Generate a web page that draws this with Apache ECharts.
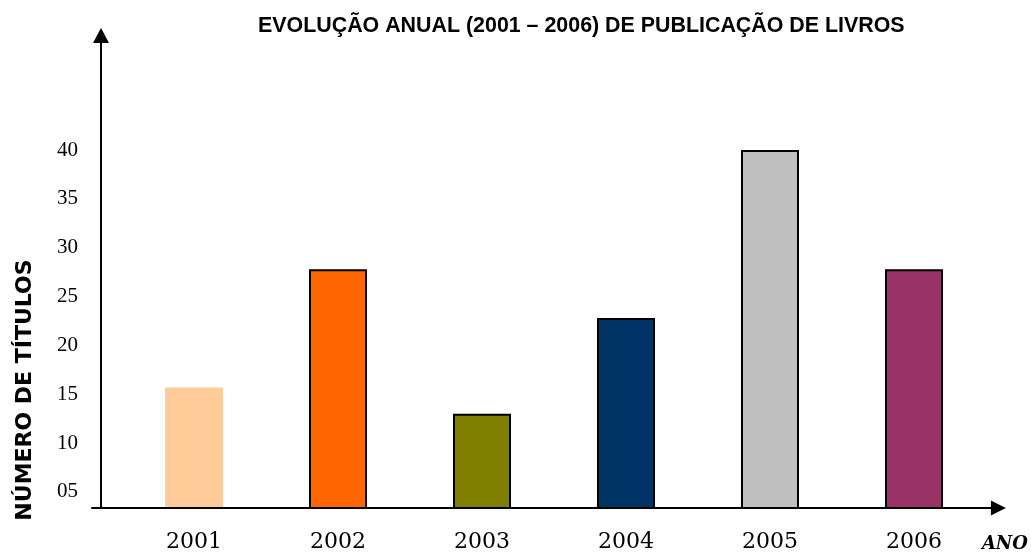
<!DOCTYPE html>
<html>
<head>
<meta charset="utf-8">
<script src="https://cdn.jsdelivr.net/npm/echarts@6/dist/echarts.min.js"></script>
<style>html,body{margin:0;padding:0;background:#fff;}#c{width:1031px;height:554px;}</style>
</head>
<body>
<div id="c"></div>
<script>
var years = ['2001', '2002', '2003', '2004', '2005', '2006'];
var titles = [15.7, 27.8, 13.0, 22.8, 40.0, 27.8];
var barColors = ['#FFCC99', '#FF6600', '#808000', '#003366', '#C0C0C0', '#993366'];
var yTicks = [5, 10, 15, 20, 25, 30, 35, 40];
var chartTitle = 'EVOLUÇÃO ANUAL (2001 – 2006) DE PUBLICAÇÃO DE LIVROS';
var yName = 'NÚMERO DE TÍTULOS';
var xName = 'ANO';

var chart = echarts.init(document.getElementById('c'), null, {renderer: 'canvas'});
var yMin = 3.36, yMax = 51.72;
var option = {
  animation: false,
  backgroundColor: '#fff',
  title: {
    text: chartTitle, left: 258, top: 16, padding: 0,
    textStyle: {fontFamily: 'Liberation Sans', fontWeight: 'bold', fontSize: 21.4, color: '#000'}
  },
  graphic: [{
    type: 'text', x: 25, y: 390, rotation: Math.PI / 2,
    style: {text: yName, align: 'center', verticalAlign: 'middle',
      font: 'bold 22px "DejaVu Sans"', fill: '#000'}
  }],
  grid: [
    {left: 122, right: 45, top: 35.5, bottom: 46, containLabel: false},
    {left: 92, right: 28.5, top: 35.5, bottom: 46, containLabel: false}
  ],
  xAxis: [
    {
      type: 'category', gridIndex: 0, data: years, boundaryGap: true,
      axisLine: {show: false}, axisTick: {show: false},
      axisLabel: {margin: 23, fontFamily: 'DejaVu Serif', fontSize: 22, color: '#000'}
    },
    {
      type: 'value', gridIndex: 1, min: 0, max: 1, z: 5,
      axisLine: {show: true, symbol: ['none', 'triangle'], symbolSize: [15, 15],
        lineStyle: {color: '#000', width: 2}},
      axisTick: {show: false}, axisLabel: {show: false}, splitLine: {show: false},
      name: xName, nameLocation: 'end', nameGap: -16.5,
      nameTextStyle: {fontFamily: 'DejaVu Serif', fontStyle: 'italic', fontWeight: 'bold',
        fontSize: 18, color: '#000', align: 'left', verticalAlign: 'top', padding: [27, 0, 0, 0]}
    }
  ],
  yAxis: [
    {
      type: 'value', gridIndex: 0, min: yMin, max: yMax, offset: 21, z: 5,
      axisLine: {show: true, symbol: ['none', 'triangle'], symbolSize: [16, 15],
        lineStyle: {color: '#000', width: 2}},
      axisTick: {show: false}, splitLine: {show: false},
      axisLabel: {
        customValues: yTicks, margin: 23,
        fontFamily: 'Liberation Serif', fontSize: 21, color: '#000',
        formatter: function (v) { return (v < 10 ? '0' : '') + v; }
      }
    },
    {type: 'value', gridIndex: 1, show: false, min: 0, max: 1}
  ],
  series: [{
    type: 'bar', xAxisIndex: 0, yAxisIndex: 0, barWidth: 58, clip: true,
    data: titles.map(function (v, i) {
      return {value: v, itemStyle: {color: barColors[i], borderColor: '#000', borderWidth: i === 0 ? 0 : 2}};
    })
  }]
};
chart.setOption(option);
</script>
</body>
</html>
